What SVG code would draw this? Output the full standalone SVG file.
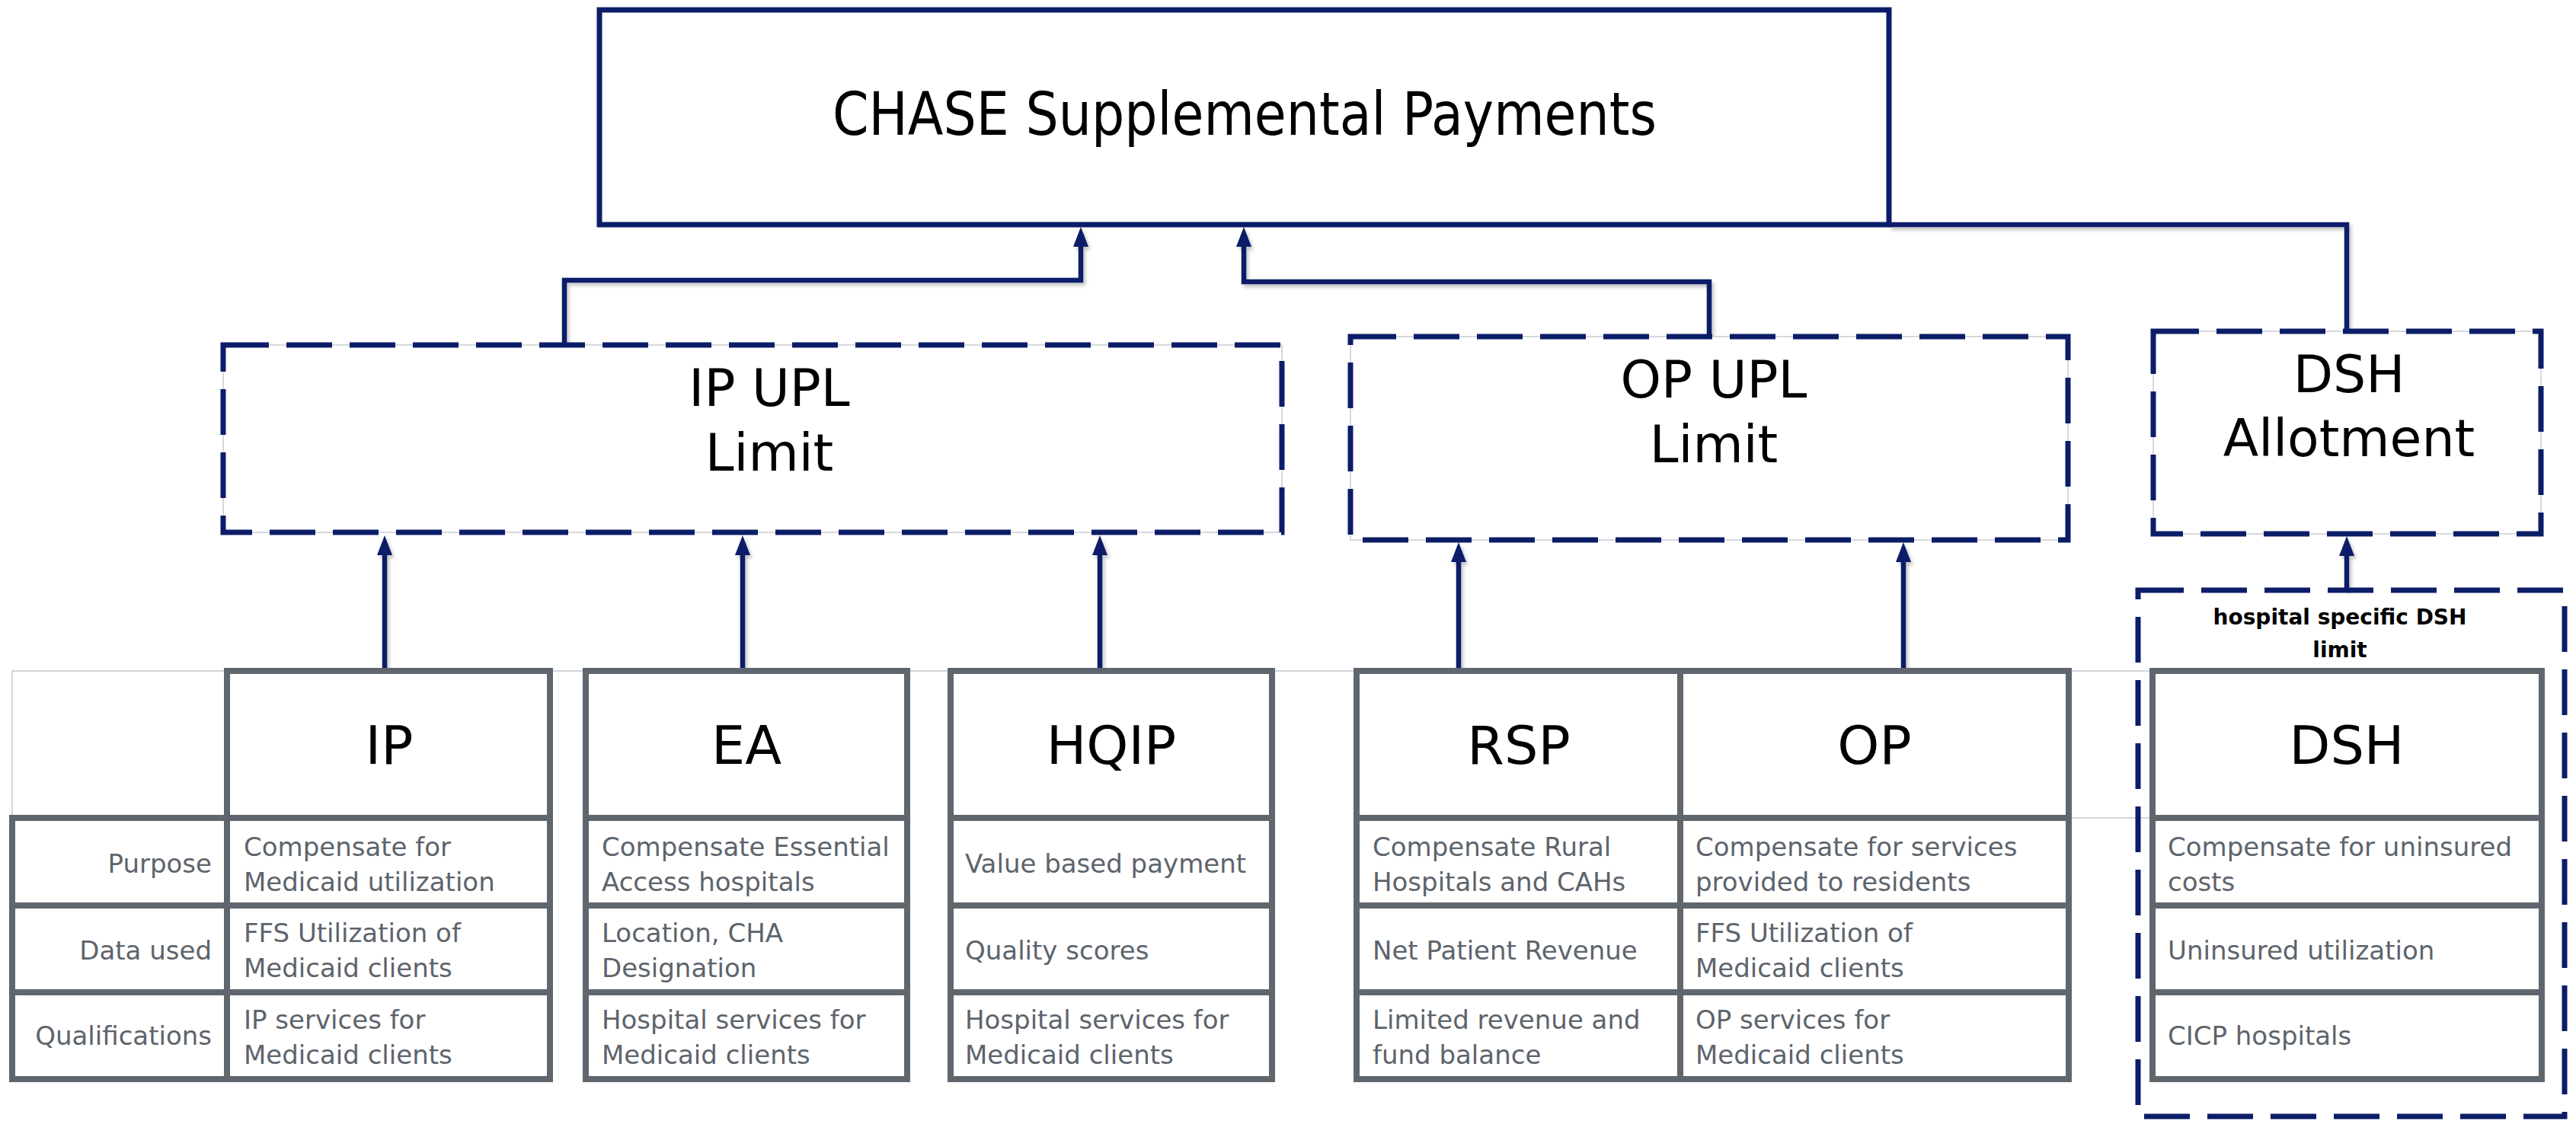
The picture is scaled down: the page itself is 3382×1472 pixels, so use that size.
<svg xmlns="http://www.w3.org/2000/svg" width="3382" height="1472" viewBox="0 0 3382 1472">
<style>
.bg{fill:#ffffff}
.navy{fill:#ffffff;stroke:#0c1d68;stroke-width:7}
.dash{fill:none;stroke:#0c1d68;stroke-width:7;stroke-dasharray:60 23}
.dashbg{fill:#ffffff;stroke:#c9ccd2;stroke-width:1.5}
.conn{fill:none;stroke:#0c1d68;stroke-width:6.5}
.cell{fill:#ffffff;stroke:#5f666e;stroke-width:8}
.grid{stroke:#5f666e;stroke-width:8;fill:none}
.thin{stroke:#c4c6ca;stroke-width:1.5;fill:none}
.big{font-family:"DejaVu Sans","Liberation Sans",sans-serif;font-size:70px;fill:#000;text-anchor:middle}
.mid{font-family:"DejaVu Sans","Liberation Sans",sans-serif;font-size:68px;fill:#000;text-anchor:middle}
.small{font-family:"DejaVu Sans","Liberation Sans",sans-serif;font-size:28px;font-weight:bold;fill:#000;text-anchor:middle}
.txt{font-family:"DejaVu Sans","Liberation Sans",sans-serif;font-size:34px;fill:#5d646c}
.lbl{font-family:"DejaVu Sans","Liberation Sans",sans-serif;font-size:34px;fill:#5d646c;text-anchor:end}
</style>
<defs>
<marker id="arr" markerUnits="userSpaceOnUse" markerWidth="28" markerHeight="22" refX="12" refY="10" orient="auto" viewBox="0 0 28 22">
<path d="M0,0 L26,10 L0,20 z" fill="#0c1d68"/>
</marker>
<filter id="sh" x="-5%" y="-5%" width="110%" height="110%">
<feDropShadow dx="3" dy="4" stdDeviation="2" flood-color="#000" flood-opacity="0.22"/>
</filter>
</defs>
<rect class="bg" x="0" y="0" width="3382" height="1472"/>

<g id="table-frame">
<line class="thin" x1="16" y1="881" x2="2826" y2="881"/>
<line class="thin" x1="16" y1="881" x2="16" y2="1074"/>
<line class="thin" x1="2716" y1="1074" x2="2826" y2="1074"/>
</g>

<g id="connectors">
<g filter="url(#sh)">
<path class="conn" d="M741,453 V368 H1419 V312" marker-end="url(#arr)"/>
<path class="conn" d="M2244,442 V370 H1633 V312" marker-end="url(#arr)"/>
<path class="conn" d="M2480,295 H3081 V435"/>
<path class="conn" d="M505,877 V717" marker-end="url(#arr)"/>
<path class="conn" d="M975,877 V717" marker-end="url(#arr)"/>
<path class="conn" d="M1444,877 V717" marker-end="url(#arr)"/>
<path class="conn" d="M1915,877 V726" marker-end="url(#arr)"/>
<path class="conn" d="M2499,877 V726" marker-end="url(#arr)"/>
<path class="conn" d="M3081,775 V718" marker-end="url(#arr)"/>
</g>
</g>

<g id="chase">
<rect class="navy" x="787" y="13" width="1693" height="282"/>
<text class="big" x="1634" y="177" textLength="1082" lengthAdjust="spacingAndGlyphs" style="font-size:78px">CHASE Supplemental Payments</text>
</g>

<g id="ip-upl">
<rect class="dashbg" x="293" y="453" width="1390" height="246"/>
<rect class="dash" x="293" y="453" width="1390" height="246"/>
<text class="mid" x="1010" y="533">IP UPL</text>
<text class="mid" x="1010" y="618">Limit</text>
</g>

<g id="op-upl">
<rect class="dashbg" x="1773" y="442" width="942" height="267"/>
<rect class="dash" x="1773" y="442" width="942" height="267"/>
<text class="mid" x="2250" y="522">OP UPL</text>
<text class="mid" x="2250" y="607">Limit</text>
</g>

<g id="dsh-allotment">
<rect class="dashbg" x="2827" y="435" width="509" height="266"/>
<rect class="dash" x="2827" y="435" width="509" height="266"/>
<text class="mid" x="3084" y="515">DSH</text>
<text class="mid" x="3084" y="599">Allotment</text>
</g>

<g id="dsh-limit">
<rect class="dash" x="2807" y="775" width="560" height="691"/>
<text class="small" x="3072" y="820">hospital specific DSH</text>
<text class="small" x="3072" y="863">limit</text>
</g>

<g id="labels">
<rect class="cell" x="16" y="1074" width="282" height="343"/>
<line class="grid" x1="16" y1="1189" x2="298" y2="1189"/>
<line class="grid" x1="16" y1="1303" x2="298" y2="1303"/>
<text class="lbl" x="278" y="1146">Purpose</text>
<text class="lbl" x="278" y="1260">Data used</text>
<text class="lbl" x="278" y="1372">Qualifications</text>
</g>

<g id="ip">
<rect class="cell" x="298" y="881" width="424" height="536"/>
<line class="grid" x1="298" y1="1074" x2="722" y2="1074"/>
<line class="grid" x1="298" y1="1189" x2="722" y2="1189"/>
<line class="grid" x1="298" y1="1303" x2="722" y2="1303"/>
<text class="big" x="511" y="1003">IP</text>
<text class="txt" x="320" y="1124">Compensate for</text>
<text class="txt" x="320" y="1170">Medicaid utilization</text>
<text class="txt" x="320" y="1237">FFS Utilization of</text>
<text class="txt" x="320" y="1283">Medicaid clients</text>
<text class="txt" x="320" y="1351">IP services for</text>
<text class="txt" x="320" y="1397">Medicaid clients</text>
</g>

<g id="ea">
<rect class="cell" x="769" y="881" width="422" height="536"/>
<line class="grid" x1="769" y1="1074" x2="1191" y2="1074"/>
<line class="grid" x1="769" y1="1189" x2="1191" y2="1189"/>
<line class="grid" x1="769" y1="1303" x2="1191" y2="1303"/>
<text class="big" x="980" y="1003">EA</text>
<text class="txt" x="790" y="1124">Compensate Essential</text>
<text class="txt" x="790" y="1170">Access hospitals</text>
<text class="txt" x="790" y="1237">Location, CHA</text>
<text class="txt" x="790" y="1283">Designation</text>
<text class="txt" x="790" y="1351">Hospital services for</text>
<text class="txt" x="790" y="1397">Medicaid clients</text>
</g>

<g id="hqip">
<rect class="cell" x="1248" y="881" width="422" height="536"/>
<line class="grid" x1="1248" y1="1074" x2="1670" y2="1074"/>
<line class="grid" x1="1248" y1="1189" x2="1670" y2="1189"/>
<line class="grid" x1="1248" y1="1303" x2="1670" y2="1303"/>
<text class="big" x="1459" y="1003">HQIP</text>
<text class="txt" x="1267" y="1146">Value based payment</text>
<text class="txt" x="1267" y="1260">Quality scores</text>
<text class="txt" x="1267" y="1351">Hospital services for</text>
<text class="txt" x="1267" y="1397">Medicaid clients</text>
</g>

<g id="rsp">
<rect class="cell" x="1781" y="881" width="425" height="536"/>
<line class="grid" x1="1781" y1="1074" x2="2206" y2="1074"/>
<line class="grid" x1="1781" y1="1189" x2="2206" y2="1189"/>
<line class="grid" x1="1781" y1="1303" x2="2206" y2="1303"/>
<text class="big" x="1994" y="1003">RSP</text>
<text class="txt" x="1802" y="1124">Compensate Rural</text>
<text class="txt" x="1802" y="1170">Hospitals and CAHs</text>
<text class="txt" x="1802" y="1260">Net Patient Revenue</text>
<text class="txt" x="1802" y="1351">Limited revenue and</text>
<text class="txt" x="1802" y="1397">fund balance</text>
</g>

<g id="op">
<rect class="cell" x="2206" y="881" width="510" height="536"/>
<line class="grid" x1="2206" y1="1074" x2="2716" y2="1074"/>
<line class="grid" x1="2206" y1="1189" x2="2716" y2="1189"/>
<line class="grid" x1="2206" y1="1303" x2="2716" y2="1303"/>
<text class="big" x="2461" y="1003">OP</text>
<text class="txt" x="2226" y="1124">Compensate for services</text>
<text class="txt" x="2226" y="1170">provided to residents</text>
<text class="txt" x="2226" y="1237">FFS Utilization of</text>
<text class="txt" x="2226" y="1283">Medicaid clients</text>
<text class="txt" x="2226" y="1351">OP services for</text>
<text class="txt" x="2226" y="1397">Medicaid clients</text>
</g>

<g id="dsh">
<rect class="cell" x="2826" y="881" width="511" height="536"/>
<line class="grid" x1="2826" y1="1074" x2="3337" y2="1074"/>
<line class="grid" x1="2826" y1="1189" x2="3337" y2="1189"/>
<line class="grid" x1="2826" y1="1303" x2="3337" y2="1303"/>
<text class="big" x="3081" y="1003">DSH</text>
<text class="txt" x="2846" y="1124">Compensate for uninsured</text>
<text class="txt" x="2846" y="1170">costs</text>
<text class="txt" x="2846" y="1260">Uninsured utilization</text>
<text class="txt" x="2846" y="1372">CICP hospitals</text>
</g>
</svg>
